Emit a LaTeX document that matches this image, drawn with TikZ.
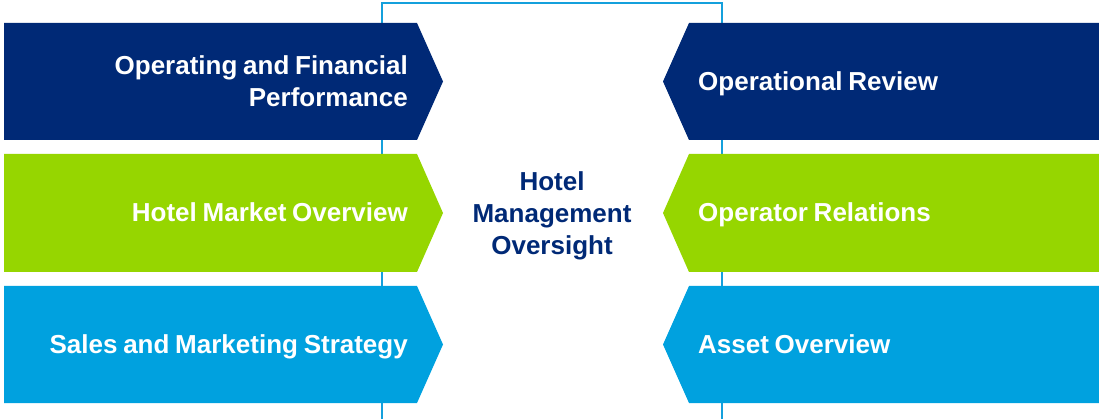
\documentclass[tikz,border=0pt]{standalone}
\usepackage{fontspec}
\setmainfont{Liberation Sans}
\definecolor{navy}{RGB}{0,41,118}
\definecolor{lime}{RGB}{150,214,0}
\definecolor{sky}{RGB}{0,161,223}
\definecolor{framec}{RGB}{20,160,220}
\newcommand{\lblfont}{\fontsize{26}{32}\selectfont\bfseries\spaceskip=0.22em plus 0.05em}
\begin{document}
\begin{tikzpicture}[x=1pt,y=-1pt,
  lbl/.style={text=white,font=\lblfont,inner sep=0pt},
  midlbl/.style={text=navy,font=\lblfont,inner sep=0pt,align=center},
  frameline/.style={draw=framec,line width=1.4pt}]
\useasboundingbox (0,0) rectangle (1099,419);
% frame connector
\coordinate (fl) at (382,419);
\coordinate (fr) at (722,419);
\coordinate (tl) at (382,3);
\coordinate (tr) at (722,3);
\draw[frameline] (fl) -- (tl) -- (tr) -- (fr);
% chevrons
\foreach \t/\b/\c in {23/140/navy,154/272/lime,286/403/sky}{
  \fill[\c] (4,\t) -- (417,\t) -- (443,{(\t+\b)/2}) -- (417,\b) -- (4,\b) -- cycle;
  \fill[\c] (1099,\t) -- (689,\t) -- (663,{(\t+\b)/2}) -- (689,\b) -- (1099,\b) -- cycle;
}
% labels
\node[lbl,anchor=base east] (l1a) at (408,75) {Operating and Financial};
\node[lbl,anchor=base east] (l1b) at (408,107) {Performance};
\node[lbl,anchor=base east] (l2) at (408,222) {Hotel Market Overview};
\node[lbl,anchor=base east] (l3) at (408,353) {Sales and Marketing Strategy};
\node[lbl,anchor=base west] (r1) at (698,91) {Operational Review};
\node[lbl,anchor=base west] (r2) at (698,222) {Operator Relations};
\node[lbl,anchor=base west] (r3) at (698,353) {Asset Overview};
\node[lbl,text=navy,anchor=base] (c1) at (552,191) {Hotel};
\node[lbl,text=navy,anchor=base] (c2) at (552,223) {Management};
\node[lbl,text=navy,anchor=base] (c3) at (552,255) {Oversight};
\end{tikzpicture}
\end{document}
